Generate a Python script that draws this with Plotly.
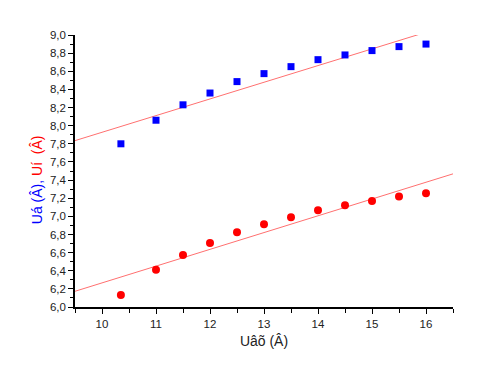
import numpy as np
import plotly.graph_objects as go

# Data
x_vals = [10.35, 11.0, 11.5, 12.0, 12.5, 13.0, 13.5, 14.0, 14.5, 15.0, 15.5, 16.0]
u_a = [7.80, 8.06, 8.23, 8.36, 8.486, 8.574, 8.651, 8.728, 8.78, 8.828, 8.872, 8.90]
u_i = [6.132, 6.412, 6.574, 6.706, 6.824, 6.912, 6.989, 7.067, 7.122, 7.169, 7.218, 7.254]
x_range = [9.5, 16.5]
y_range = [6.0, 9.0]

fig = go.Figure()

# Linear fits
xf = np.array(x_range)
for ys in (u_a, u_i):
    k, b = np.polyfit(x_vals, ys, 1)
    fig.add_trace(go.Scatter(x=xf, y=k * xf + b, mode="lines",
                             line=dict(color="#ff7070", width=1),
                             showlegend=False, hoverinfo="skip"))

fig.add_trace(go.Scatter(x=x_vals, y=u_a, mode="markers",
                         marker=dict(symbol="square", size=7, color="#0000ff"),
                         showlegend=False, cliponaxis=False))
fig.add_trace(go.Scatter(x=x_vals, y=u_i, mode="markers",
                         marker=dict(symbol="circle", size=8, color="#ff0000"),
                         showlegend=False, cliponaxis=False))

font = "Liberation Sans, Arial, sans-serif"
fig.update_layout(
    width=480, height=379,
    margin=dict(l=67, r=35, t=27, b=80),
    paper_bgcolor="white", plot_bgcolor="white",
    separators=",.",
    font=dict(family=font, size=11, color="#222"),
    xaxis=dict(range=x_range, showgrid=False, zeroline=False,
               showline=True, linecolor="black", linewidth=1.5,
               ticks="outside", ticklen=5, tickwidth=1, tickcolor="black",
               dtick=1, tick0=10,
               minor=dict(ticks="outside", ticklen=4, dtick=0.5, tick0=10, tickcolor="black", showgrid=False),
               tickfont=dict(size=11.5, color="#222"),
               title=dict(text="Uâõ (Â)", font=dict(size=14, color="#222"), standoff=8)),
    yaxis=dict(range=y_range, showgrid=False, zeroline=False,
               showline=True, linecolor="black", linewidth=1.5,
               ticks="outside", ticklen=5, tickwidth=1, tickcolor="black",
               dtick=0.2, tick0=6, tickformat=".1f",
               minor=dict(ticks="outside", ticklen=3, dtick=0.1, tick0=6, tickcolor="black", showgrid=False),
               tickfont=dict(size=11.5, color="#222")),
    annotations=[dict(
        text="<span style='color:#0000ff'>Uá (Â),</span><span style='color:#ff0000'> Uí\u00a0 (Â)</span>",
        xref="paper", yref="paper", x=-0.10, y=0.467, textangle=-90,
        showarrow=False, font=dict(size=14, family=font),
        xanchor="center", yanchor="middle")],
)

fig.write_html("out.html")
